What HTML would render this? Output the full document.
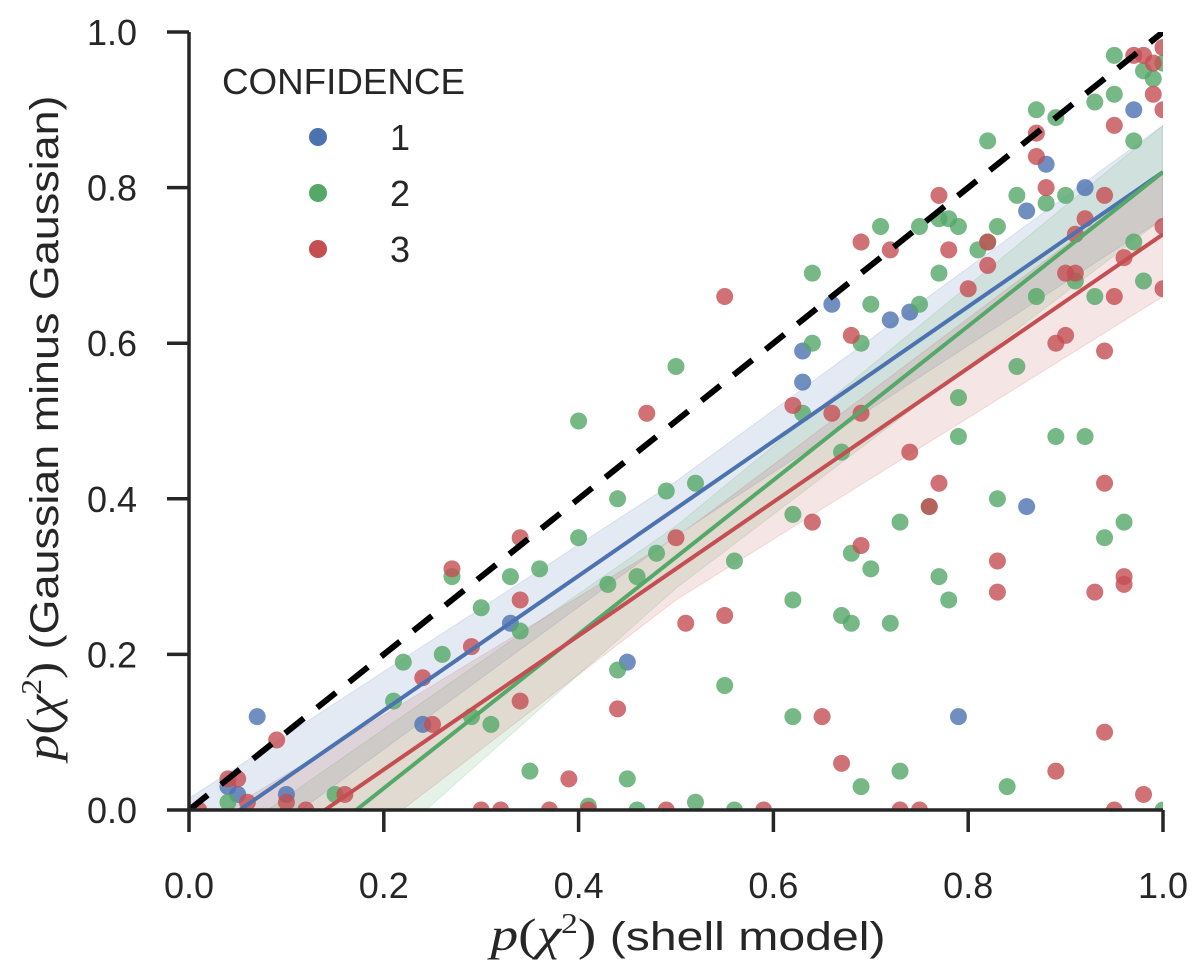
<!DOCTYPE html>
<html><head><meta charset="utf-8"><style>
html,body{margin:0;padding:0;background:#fff;overflow:hidden;}
svg{display:block;font-family:"Liberation Sans",sans-serif;}
</style></head><body>
<svg id="chart" width="1200" height="975" viewBox="0 0 1200 975" xmlns="http://www.w3.org/2000/svg">
<defs><clipPath id="plotclip"><rect x="189" y="32" width="974" height="778"/></clipPath></defs>
<g id="bands" clip-path="url(#plotclip)"></g>
<g id="points" clip-path="url(#plotclip)"></g>
<g id="lines" clip-path="url(#plotclip)"></g>
<g id="axes"></g>
<g id="legend">
<text x="222" y="94" font-size="36" fill="#262626" textLength="243" lengthAdjust="spacingAndGlyphs">CONFIDENCE</text>
</g>
<text x="688" y="950" font-size="40" fill="#262626" text-anchor="middle" textLength="395" lengthAdjust="spacingAndGlyphs"><tspan font-family="Liberation Serif, serif" font-style="italic" font-size="46">p</tspan><tspan font-family="Liberation Serif, serif" font-size="46">(</tspan><tspan font-family="Liberation Serif, serif" font-style="italic" font-size="46">χ</tspan><tspan font-family="Liberation Serif, serif" font-size="28" dy="-17">2</tspan><tspan font-family="Liberation Serif, serif" font-size="46" dy="17">)</tspan> (shell model)</text>
<text transform="translate(58,428) rotate(-90)" font-size="40" fill="#262626" text-anchor="middle" textLength="665" lengthAdjust="spacingAndGlyphs"><tspan font-family="Liberation Serif, serif" font-style="italic" font-size="46">p</tspan><tspan font-family="Liberation Serif, serif" font-size="46">(</tspan><tspan font-family="Liberation Serif, serif" font-style="italic" font-size="46">χ</tspan><tspan font-family="Liberation Serif, serif" font-size="28" dy="-17">2</tspan><tspan font-family="Liberation Serif, serif" font-size="46" dy="17">)</tspan> (Gaussian minus Gaussian)</text>
</svg>
<script>
const xTicks = [0.0, 0.2, 0.4, 0.6, 0.8, 1.0];
const yTicks = [0.0, 0.2, 0.4, 0.6, 0.8, 1.0];
const seriesNames = ["1", "2", "3"];
const seriesColors = ["#4C72B0", "#55A868", "#C44E52"];
const blue = [[0.04,0.03],[0.05,0.02],[0.07,0.12],[0.10,0.02],[0.24,0.11],[0.33,0.24],[0.45,0.19],[0.63,0.59],[0.63,0.55],[0.66,0.65],[0.72,0.63],[0.74,0.64],[0.79,0.12],[0.86,0.39],[0.86,0.77],[0.88,0.83],[0.92,0.80],[0.97,0.90]];
const green = [[0.04,0.01],[0.15,0.02],[0.21,0.14],[0.22,0.19],[0.26,0.20],[0.27,0.30],[0.29,0.12],[0.30,0.26],[0.31,0.11],[0.33,0.30],[0.34,0.23],[0.35,0.05],[0.36,0.31],[0.40,0.35],[0.40,0.50],[0.41,0.005],[0.43,0.29],[0.44,0.40],[0.44,0.18],[0.45,0.04],[0.46,0.30],[0.46,0.0],[0.48,0.33],[0.49,0.41],[0.50,0.57],[0.52,0.42],[0.52,0.01],[0.55,0.16],[0.56,0.32],[0.56,0.0],[0.62,0.27],[0.62,0.38],[0.62,0.12],[0.63,0.51],[0.64,0.60],[0.64,0.69],[0.67,0.46],[0.67,0.25],[0.68,0.24],[0.68,0.33],[0.69,0.03],[0.69,0.60],[0.70,0.31],[0.70,0.65],[0.71,0.75],[0.72,0.24],[0.73,0.37],[0.73,0.05],[0.75,0.65],[0.75,0.75],[0.76,0.39],[0.77,0.30],[0.77,0.69],[0.77,0.76],[0.78,0.76],[0.78,0.27],[0.79,0.53],[0.79,0.48],[0.79,0.75],[0.81,0.72],[0.82,0.73],[0.82,0.86],[0.83,0.40],[0.83,0.75],[0.84,0.03],[0.85,0.57],[0.85,0.79],[0.87,0.90],[0.87,0.66],[0.88,0.78],[0.89,0.48],[0.89,0.89],[0.90,0.79],[0.91,0.68],[0.92,0.48],[0.93,0.66],[0.93,0.91],[0.94,0.35],[0.95,0.92],[0.95,0.97],[0.96,0.37],[0.97,0.86],[0.97,0.73],[0.98,0.68],[0.98,0.95],[0.99,0.94],[1.0,0.0],[1.0,0.96]];
const red = [[0.01,0.0],[0.04,0.04],[0.05,0.04],[0.06,0.01],[0.09,0.09],[0.10,0.01],[0.12,0.0],[0.16,0.02],[0.24,0.17],[0.25,0.11],[0.27,0.31],[0.29,0.21],[0.30,0.0],[0.32,0.0],[0.34,0.35],[0.34,0.27],[0.34,0.14],[0.37,0.0],[0.39,0.04],[0.41,0.0],[0.44,0.13],[0.47,0.51],[0.49,0.0],[0.50,0.35],[0.51,0.24],[0.55,0.25],[0.55,0.66],[0.59,0.0],[0.62,0.52],[0.64,0.37],[0.65,0.12],[0.66,0.51],[0.67,0.06],[0.68,0.61],[0.69,0.34],[0.69,0.51],[0.69,0.73],[0.72,0.72],[0.74,0.46],[0.73,0.0],[0.75,0.0],[0.76,0.39],[0.77,0.79],[0.77,0.42],[0.78,0.72],[0.80,0.67],[0.82,0.73],[0.82,0.70],[0.83,0.32],[0.83,0.28],[0.87,0.87],[0.87,0.84],[0.88,0.80],[0.89,0.05],[0.89,0.60],[0.90,0.61],[0.90,0.69],[0.91,0.74],[0.91,0.69],[0.92,0.76],[0.93,0.28],[0.94,0.79],[0.94,0.59],[0.94,0.42],[0.94,0.10],[0.95,0.0],[0.95,0.88],[0.95,0.66],[0.96,0.29],[0.96,0.30],[0.96,0.71],[0.97,0.97],[0.98,0.02],[0.98,0.97],[0.99,0.92],[0.99,0.96],[1.0,0.75],[1.0,0.67],[1.0,0.90],[1.0,0.98]];
// regression fit: [intercept, slope]
const fitBlue = [-0.045, 0.865];
const fitGreen = [-0.17, 0.99];
const fitRed = [-0.12, 0.86];
// confidence band half-width at x = 0, 0.5, 1
const ciX = [0.0, 0.5, 1.0];
const ciBlue = [0.06, 0.035, 0.06];
const ciGreen = [0.10, 0.04, 0.06];
const ciRed = [0.09, 0.04, 0.08];

const NS = "http://www.w3.org/2000/svg";
const X0 = 189, X1 = 1163, Y0 = 810, Y1 = 32;
const sx = v => X0 + v * (X1 - X0);
const sy = v => Y0 - v * (Y0 - Y1);
function mk(tag, attrs, parent) {
  const e = document.createElementNS(NS, tag);
  for (const k in attrs) e.setAttribute(k, attrs[k]);
  parent.appendChild(e);
  return e;
}
const bandsG = document.getElementById('bands');
const pointsG = document.getElementById('points');
const linesG = document.getElementById('lines');
const axesG = document.getElementById('axes');
const legendG = document.getElementById('legend');

const fits = [fitBlue, fitGreen, fitRed];
const cis = [ciBlue, ciGreen, ciRed];
const datasets = [blue, green, red];
const keys = ['blue', 'green', 'red'];

for (let s = 0; s < 3; s++) {
  const f = fits[s], c = cis[s];
  const up = ciX.map((x, i) => sx(x) + ',' + sy(f[0] + f[1] * x + c[i]));
  const lo = ciX.slice().reverse().map((x, j) => { const i = ciX.length - 1 - j; return sx(x) + ',' + sy(f[0] + f[1] * x - c[i]); });
  const p = mk('polygon', {points: up.concat(lo).join(' '), fill: seriesColors[s], 'fill-opacity': 0.15, stroke: seriesColors[s], 'stroke-opacity': 0.15}, bandsG);
  
  
}
for (let s = 0; s < 3; s++) {
  datasets[s].forEach(d => {
    const c = mk('circle', {cx: sx(d[0]), cy: sy(d[1]), r: 8.5, fill: seriesColors[s], 'fill-opacity': 0.8}, pointsG);
    
    
  });
}
for (let s = 0; s < 3; s++) {
  const f = fits[s];
  const l = mk('line', {x1: sx(0), y1: sy(f[0]), x2: sx(1), y2: sy(f[0] + f[1]), stroke: seriesColors[s], 'stroke-width': 4}, linesG);
  
  
}
const idl = mk('line', {x1: sx(0), y1: sy(0), x2: sx(1), y2: sy(1), stroke: '#000', 'stroke-width': 6, 'stroke-dasharray': '24 17'}, linesG);



const ya = mk('line', {x1: X0, y1: Y1, x2: X0, y2: Y0 + 1.5, stroke: '#262626', 'stroke-width': 3.5}, axesG);


const xa = mk('line', {x1: X0 - 1.5, y1: Y0, x2: X1, y2: Y0, stroke: '#262626', 'stroke-width': 3.5}, axesG);


xTicks.forEach(t => {
  const tk = mk('line', {x1: sx(t), y1: Y0, x2: sx(t), y2: Y0 + 22, stroke: '#262626', 'stroke-width': 3.5}, axesG);
  
  
  const tl = mk('text', {x: sx(t), y: 898, 'font-size': 36, fill: '#262626', 'text-anchor': 'middle'}, axesG);
  tl.textContent = t.toFixed(1);
  
  
});
yTicks.forEach(t => {
  const tk = mk('line', {x1: X0 - 22, y1: sy(t), x2: X0, y2: sy(t), stroke: '#262626', 'stroke-width': 3.5}, axesG);
  
  
  const tl = mk('text', {x: 137, y: sy(t) + 13, 'font-size': 36, fill: '#262626', 'text-anchor': 'end'}, axesG);
  tl.textContent = t.toFixed(1);
  
  
});
for (let s = 0; s < 3; s++) {
  const cy = 137 + s * 56;
  const c = mk('circle', {cx: 318, cy: cy, r: 9, fill: seriesColors[s]}, legendG);
  
  
  const t = mk('text', {x: 390, y: cy + 13, 'font-size': 36, fill: '#262626'}, legendG);
  t.textContent = seriesNames[s];
  
  
}
</script>
</body></html>
